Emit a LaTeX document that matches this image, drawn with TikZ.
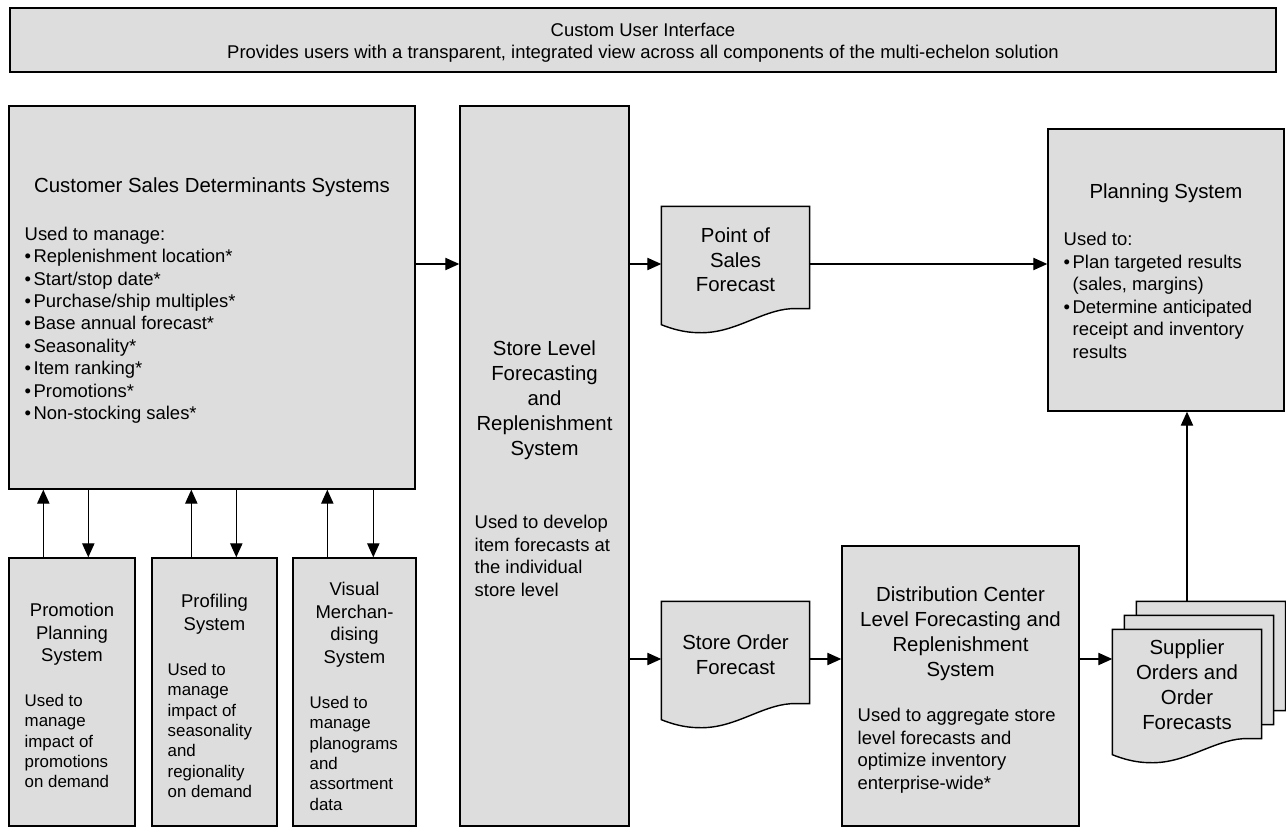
\documentclass[tikz,border=0pt]{standalone}
\usepackage{fontspec}
\setmainfont{Liberation Sans}
\usetikzlibrary{arrows.meta,calc}

\definecolor{boxgray}{RGB}{221,221,221}
\newcommand{\itm}{\makebox[5.1pt][l]{\textbullet}}
\newcommand{\drawdoc}[1]{%
  \filldraw[fill=boxgray, line width=0.8pt] (#1.north west) -- (#1.north east)
    -- ($(#1.south east)+(0,-13)$) -- ($(#1.south east)+(-19,-13)$)
    .. controls ($(#1.south east)+(-49,-11)$) and ($(#1.south west)+(73,12)$) .. ($(#1.south west)+(38,11)$)
    .. controls ($(#1.south west)+(23,11)$) and ($(#1.south west)+(10,7)$) .. ($(#1.south west)+(0,3)$)
    -- cycle;}

\tikzset{
  sysbox/.style={draw, fill=boxgray, line width=0.8pt, inner sep=0pt},
  docnode/.style={inner sep=0pt, minimum width=2.94cm, minimum height=2.28cm},
  bigtitle/.style={font=\fontsize{11.6}{14.2}\selectfont, align=center, inner sep=0pt, anchor=base},
  bodytext/.style={font=\fontsize{10.5}{12.75}\selectfont, align=left, inner sep=0pt, anchor=base west},
  smalltitle/.style={font=\fontsize{10.5}{12.75}\selectfont, align=center, inner sep=0pt, anchor=base},
  smallbody/.style={font=\fontsize{9.6}{11.55}\selectfont, align=left, inner sep=0pt, anchor=base west},
}

\begin{document}
\begin{tikzpicture}[x=0.02cm, y=-0.02cm, >={Triangle[length=8pt,width=7pt]}, line width=0.8pt]
    \useasboundingbox (0,0) rectangle (1286,828);

    % boxes
    \node[sysbox, minimum width=25.32cm, minimum height=1.28cm] (ui) at (643,40) {};
    \node[sysbox, minimum width=8.12cm, minimum height=7.66cm] (csd) at (212,297.5) {};
    \node[sysbox, minimum width=2.52cm, minimum height=5.36cm] (promo) at (72,692) {};
    \node[sysbox, minimum width=2.5cm, minimum height=5.36cm] (prof) at (214.5,692) {};
    \node[sysbox, minimum width=2.46cm, minimum height=5.36cm] (vis) at (354.5,692) {};
    \node[sysbox, minimum width=3.38cm, minimum height=14.4cm] (sl) at (544.5,466) {};
    \node[sysbox, minimum width=4.72cm, minimum height=5.64cm] (plan) at (1166,270) {};
    \node[sysbox, minimum width=4.74cm, minimum height=5.6cm] (dc) at (960.5,686) {};

    % documents
    \node[docnode] (pos) at (735.5,264) {};
    \node[docnode] (sof) at (735.5,659) {};
    \node[docnode, minimum width=2.96cm, minimum height=2.42cm] (sup3) at (1211,662.5) {};
    \node[docnode, minimum width=2.96cm, minimum height=2.42cm] (sup2) at (1199,676.5) {};
    \node[docnode, minimum width=2.96cm, minimum height=2.42cm] (sup) at (1187,690.5) {};
    \drawdoc{pos}
    \drawdoc{sof}
    \drawdoc{sup3}
    \drawdoc{sup2}
    \drawdoc{sup}

    % connectors
    \draw[->] (csd.east |- pos.west) -- (sl.west |- pos.west);
    \draw[->] (sl.east |- pos.west) -- (pos.west);
    \draw[->] (pos.east) -- (plan.west |- pos.east);
    \draw[->] (sl.east |- sof.west) -- (sof.west);
    \draw[->] (sof.east) -- (dc.west |- sof.east);
    \draw[->] (dc.east |- sof.east) -- (sup.west |- sof.east);
    \draw[->] (sup3.north -| sup.north) -- (plan.south -| sup.north);
    \foreach \b/\u/\d in {promo/35/80, prof/40/85, vis/35/81} {
        \coordinate (\b-up) at ($(\b.north west)+(\u,0)$);
        \coordinate (\b-dn) at ($(\b.north west)+(\d,0)$);
        \draw[->] (\b-up) -- (\b-up |- csd.south);
        \draw[->] (\b-dn |- csd.south) -- (\b-dn);
    }

    % texts (anchored on the baseline of the last line)
    \node[smalltitle] (ui-text) at (643,59) {Custom User Interface\\Provides users with a transparent, integrated view across all components of the multi-echelon solution};

    \node[bigtitle] (csd-title) at (212,193) {Customer Sales Determinants Systems};
    \node[bodytext] (csd-text) at (24,419.5) {Used to manage:\\
        \itm Replenishment location*\\
        \itm Start/stop date*\\
        \itm Purchase/ship multiples*\\
        \itm Base annual forecast*\\
        \itm Seasonality*\\
        \itm Item ranking*\\
        \itm Promotions*\\
        \itm Non-stocking sales*};

    \node[smalltitle] (promo-title) at (72,661.5) {Promotion\\Planning\\System};
    \node[smallbody] (promo-text) at (24,787.6) {Used to\\manage\\impact of\\promotions\\on demand};
    \node[smalltitle] (prof-title) at (214.5,630) {Profiling\\System};
    \node[smallbody] (prof-text) at (167,797.4) {Used to\\manage\\impact of\\seasonality\\and\\regionality\\on demand};
    \node[smalltitle] (vis-title) at (354.5,663) {Visual\\Merchan-\\dising\\System};
    \node[smallbody] (vis-text) at (309,810) {Used to\\manage\\planograms\\and\\assortment\\data};

    \node[bigtitle] (sl-title) at (544.5,455) {Store Level\\Forecasting\\and\\Replenishment\\System};
    \node[bodytext] (sl-text) at (474,596) {Used to develop\\item forecasts at\\the individual\\store level};

    \node[bigtitle] (pos-text) at (735.5,292) {Point of\\Sales\\Forecast};
    \node[bigtitle] (sof-text) at (735.5,674) {Store Order\\Forecast};

    \node[bigtitle] (plan-title) at (1166,198) {Planning System};
    \node[bodytext] (plan-text) at (1063,358) {Used to:\\
        \itm Plan targeted results\\
        \hspace*{5.1pt}(sales, margins)\\
        \itm Determine anticipated\\
        \hspace*{5.1pt}receipt and inventory\\
        \hspace*{5.1pt}results};

    \node[bigtitle] (dc-title) at (960.5,676) {Distribution Center\\Level Forecasting and\\Replenishment\\System};
    \node[bodytext] (dc-text) at (857,789) {Used to aggregate store\\level forecasts and\\optimize inventory\\enterprise-wide*};

    \node[bigtitle] (sup-text) at (1187,729) {Supplier\\Orders and\\Order\\Forecasts};
\end{tikzpicture}
\end{document}
